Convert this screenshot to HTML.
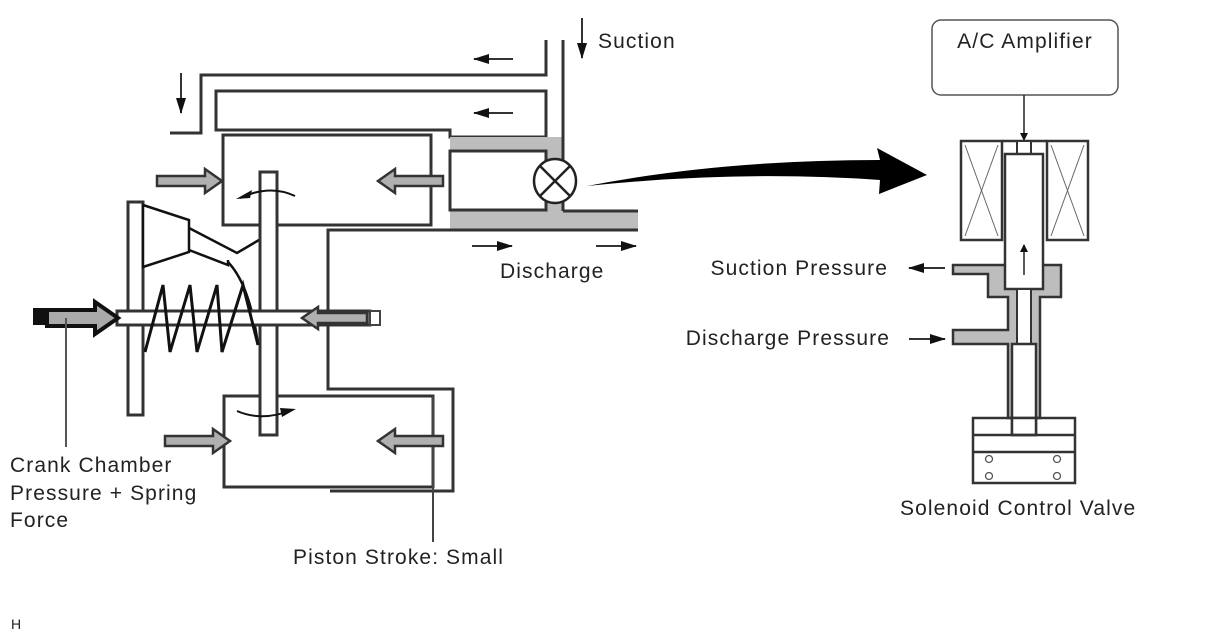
<!DOCTYPE html>
<html><head><meta charset="utf-8"><style>
html,body{margin:0;padding:0;background:#fff;}
svg{display:block;}
text{font-family:"Liberation Sans",Arial,sans-serif;fill:#222;}
</style></head><body>
<svg width="1208" height="644" viewBox="0 0 1208 644" xmlns="http://www.w3.org/2000/svg">
<defs>
<marker id="ah" markerWidth="8" markerHeight="8" refX="7" refY="4" orient="auto" markerUnits="userSpaceOnUse"><path d="M0,0 L8,4 L0,8 Z" fill="#111"/></marker>
<marker id="ahs" markerWidth="16" markerHeight="10" refX="15" refY="5" orient="auto" markerUnits="userSpaceOnUse"><path d="M0,0 L16,5 L0,10 Z" fill="#111"/></marker>
</defs>
<g fill="none" stroke="#333" stroke-width="3">
<polyline points="546,40 546,75 201,75 201,133 170,133"/>
<polygon points="216,91 546,91 546,137 450,137 450,130 216,130" fill="#fff"/>
</g>
<path d="M450,137 H563 V210 H638 V230 H450 Z" fill="#bdbdbd"/>
<rect x="450" y="151" width="96" height="59" fill="#fff" stroke="#333" stroke-width="3"/>
<g fill="none" stroke="#333" stroke-width="3">
<line x1="563" y1="40" x2="563" y2="160"/>
<line x1="563" y1="202" x2="563" y2="211"/>
<line x1="563" y1="211" x2="638" y2="211"/>
<polyline points="638,230 328,230 328,389 453,389 453,491 330,491"/>
</g>
<ellipse cx="555" cy="181" rx="21" ry="22" fill="#fff" stroke="#222" stroke-width="2.5"/>
<line x1="540" y1="166" x2="570" y2="196" stroke="#222" stroke-width="2.5"/>
<line x1="570" y1="166" x2="540" y2="196" stroke="#222" stroke-width="2.5"/>
<rect x="223" y="135" width="208" height="90" fill="#fff" stroke="#333" stroke-width="3"/>
<rect x="224" y="396" width="209" height="91" fill="none" stroke="#333" stroke-width="3"/>
<line x1="433" y1="396" x2="433" y2="542" stroke="#444" stroke-width="2"/>
<g stroke="#333" stroke-width="2" fill="none">
<line x1="513" y1="59" x2="474" y2="59" marker-end="url(#ahs)"/>
<line x1="513" y1="113" x2="474" y2="113" marker-end="url(#ahs)"/>
<line x1="181" y1="73" x2="181" y2="113" marker-end="url(#ahs)"/>
<line x1="472" y1="246" x2="512" y2="246" marker-end="url(#ahs)"/>
<line x1="596" y1="246" x2="636" y2="246" marker-end="url(#ahs)"/>
<line x1="582" y1="18" x2="582" y2="58" marker-end="url(#ahs)"/>
<line x1="945" y1="268" x2="909" y2="268" marker-end="url(#ahs)"/>
<line x1="909" y1="339" x2="945" y2="339" marker-end="url(#ahs)"/>
</g>
<rect x="128" y="202" width="15" height="213" fill="#fff" stroke="#333" stroke-width="3"/>
<polygon points="143,205 189,220 189,252 143,267" fill="#fff" stroke="#111" stroke-width="2.5"/>
<polyline points="189,228 237,253 259,240" fill="none" stroke="#111" stroke-width="2.5"/>
<polyline points="189,250 228,265 228,260" fill="none" stroke="#111" stroke-width="2.5"/>
<path d="M228,262 Q250,285 258,345" fill="none" stroke="#111" stroke-width="2.5"/>
<rect x="260" y="172" width="17" height="263" fill="#fff" stroke="#333" stroke-width="3"/>
<rect x="117" y="311" width="253" height="14" fill="#fff" stroke="#333" stroke-width="3"/>
<rect x="370" y="311" width="10" height="14" fill="#fff" stroke="#444" stroke-width="2"/>
<polyline points="145,352 163,285 170,352 190,285 197,352 217,285 222,352 243,285 258,345" fill="none" stroke="#111" stroke-width="3"/>
<rect x="33" y="308" width="16" height="17" fill="#111"/>
<polygon points="47,310 95,310 95,302 118,318 95,334 95,326 47,326" fill="#aaa" stroke="#111" stroke-width="4"/>
<line x1="66" y1="318" x2="66" y2="447" stroke="#555" stroke-width="2"/>
<g fill="#b0b0b0" stroke="#333" stroke-width="2.5">
<polygon points="157,176 205,176 205,169 222,181 205,193 205,186 157,186"/>
<polygon points="443,176 395,176 395,169 378,181 395,193 395,186 443,186"/>
<polygon points="165,436 213,436 213,429 230,441 213,453 213,446 165,446"/>
<polygon points="443,436 395,436 395,429 378,441 395,453 395,446 443,446"/>
<polygon points="367,313 318,313 318,307 302,318 318,329 318,323 367,323"/>
</g>
<path d="M295,196 Q270,184 240,198" fill="none" stroke="#111" stroke-width="2"/>
<polygon points="236,199 252,190 250,198" fill="#111"/>
<path d="M237,411 Q262,422 292,410" fill="none" stroke="#111" stroke-width="2"/>
<polygon points="296,409 280,408 282,417" fill="#111"/>
<path d="M587,186 Q720,160 880,160 L877,148 L927,175 L879,194 L880,180 Q740,170 587,186 Z" fill="#000"/>
<rect x="932" y="20" width="186" height="75" rx="9" fill="#fff" stroke="#555" stroke-width="1.5"/>
<line x1="1024" y1="95" x2="1024" y2="140" stroke="#222" stroke-width="1.5" marker-end="url(#ah)"/>
<g stroke="#333" stroke-width="2.5" fill="#fff">
<rect x="961" y="141" width="41" height="99"/>
<rect x="1047" y="141" width="41" height="99"/>
</g>
<g stroke="#666" stroke-width="1">
<line x1="965" y1="145" x2="998" y2="236"/><line x1="998" y1="145" x2="965" y2="236"/>
<line x1="1051" y1="145" x2="1084" y2="236"/><line x1="1084" y1="145" x2="1051" y2="236"/>
</g>
<line x1="1002" y1="141" x2="1047" y2="141" stroke="#333" stroke-width="2.5"/>
<rect x="1017" y="141" width="14" height="13" fill="#fff" stroke="#333" stroke-width="2"/>
<path d="M953,265 H1061 V297 H1040 V418 H1008 V344 H953 V330 H1008 V297 H988 V274 H953 Z" fill="#bdbdbd" stroke="#333" stroke-width="2.5"/>
<rect x="1005" y="154" width="38" height="135" fill="#fff" stroke="#333" stroke-width="2.5"/>
<rect x="1017" y="289" width="14" height="55" fill="#fff" stroke="#333" stroke-width="2"/>
<rect x="1012" y="344" width="24" height="91" fill="#fff" stroke="#333" stroke-width="2.5"/>
<line x1="1024" y1="275" x2="1024" y2="245" stroke="#222" stroke-width="1.5" marker-end="url(#ah)"/>
<rect x="973" y="418" width="102" height="65" fill="none" stroke="#333" stroke-width="2.5"/>
<rect x="1012" y="418" width="24" height="17" fill="#fff" stroke="#333" stroke-width="2.5"/>
<line x1="973" y1="435" x2="1075" y2="435" stroke="#333" stroke-width="2.5"/>
<line x1="973" y1="452" x2="1075" y2="452" stroke="#333" stroke-width="2.5"/>
<g fill="#fff" stroke="#555" stroke-width="1.3">
<circle cx="989" cy="459" r="3.5"/><circle cx="1057" cy="459" r="3.5"/>
<circle cx="989" cy="476" r="3.5"/><circle cx="1057" cy="476" r="3.5"/>
</g>
<g font-size="21" letter-spacing="1.1">
<text x="598" y="48">Suction</text>
<text x="1025" y="48" text-anchor="middle">A/C Amplifier</text>
<text x="500" y="278">Discharge</text>
<text x="888" y="275" text-anchor="end">Suction Pressure</text>
<text x="890" y="345" text-anchor="end">Discharge Pressure</text>
<text x="900" y="515">Solenoid Control Valve</text>
<text x="10" y="472">Crank Chamber</text>
<text x="10" y="500">Pressure + Spring</text>
<text x="10" y="527">Force</text>
<text x="293" y="564">Piston Stroke: Small</text>
</g>
<text x="11" y="629" font-size="14">H</text>
</svg>
</body></html>
